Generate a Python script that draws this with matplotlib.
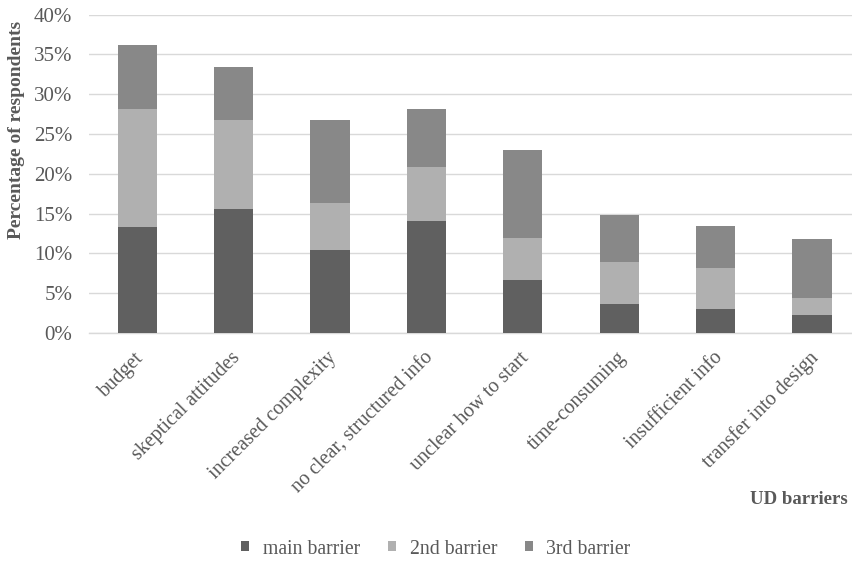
import matplotlib
matplotlib.use("Agg")
import matplotlib.pyplot as plt
import numpy as np
from matplotlib.patches import Patch

categories = ["budget", "skeptical attitudes", "increased complexity",
              "no clear, structured info", "unclear how to start",
              "time-consuming", "insufficient info", "transfer into design"]
main_barrier = [13.3, 15.6, 10.4, 14.1, 6.7, 3.7, 3.0, 2.2]
second_barrier = [14.8, 11.1, 5.9, 6.7, 5.2, 5.2, 5.2, 2.2]
third_barrier = [8.1, 6.7, 10.4, 7.4, 11.1, 5.9, 5.2, 7.4]
series_names = ["main barrier", "2nd barrier", "3rd barrier"]
yticks = [0, 5, 10, 15, 20, 25, 30, 35, 40]

colors = ["#606060", "#b0b0b0", "#888888"]
text_grey = "#595959"

plt.rcParams["font.family"] = ["Liberation Serif", "DejaVu Serif"]

fig = plt.figure(figsize=(8.53, 5.62), dpi=100)
ax = fig.add_axes([89 / 853, 1 - 333 / 562, (853 - 89) / 853, (333 - 14.6) / 562])

x = np.arange(len(categories))
w = 0.405
bottom = np.zeros(len(categories))
for vals, col in zip([main_barrier, second_barrier, third_barrier], colors):
    ax.bar(x, vals, w, bottom=bottom, color=col, zorder=3)
    bottom += np.array(vals)

ax.set_xlim(-0.5, -0.5 + 764 / 96.4)
ax.set_ylim(0, 40)
ax.set_yticks(yticks)
ax.set_yticklabels([f"{v}%" for v in yticks], fontsize=15, color=text_grey)
ax.yaxis.grid(True, color="#d9d9d9", lw=1, zorder=0)
ax.tick_params(axis="y", length=0, pad=12)
ax.tick_params(axis="x", length=0, pad=11)
for s in ["top", "right", "left"]:
    ax.spines[s].set_visible(False)
ax.spines["bottom"].set_color("#d9d9d9")
ax.spines["bottom"].set_linewidth(1)

ax.set_xticks(x - 0.03)
ax.set_xticklabels(categories, rotation=45, ha="right", va="top",
                   rotation_mode="anchor", fontsize=14.5, color=text_grey)

fig.text(17 / 853, 1 - 130 / 562, "Percentage of respondents", rotation=90,
         ha="center", va="center", fontsize=14, fontweight="bold", color=text_grey)
fig.text(848 / 853, 1 - 499 / 562, "UD barriers", ha="right", va="center",
         fontsize=13.5, fontweight="bold", color=text_grey)

handles = [Patch(facecolor=c, edgecolor="none") for c in colors]
fig.legend(handles, series_names, loc="center", bbox_to_anchor=(436 / 853, 1 - 549 / 562),
           ncol=3, frameon=False, fontsize=14.2, labelcolor=text_grey,
           handlelength=0.4, handleheight=0.4, handletextpad=0.7, columnspacing=1.4)

fig.savefig("out.png", dpi=100)
